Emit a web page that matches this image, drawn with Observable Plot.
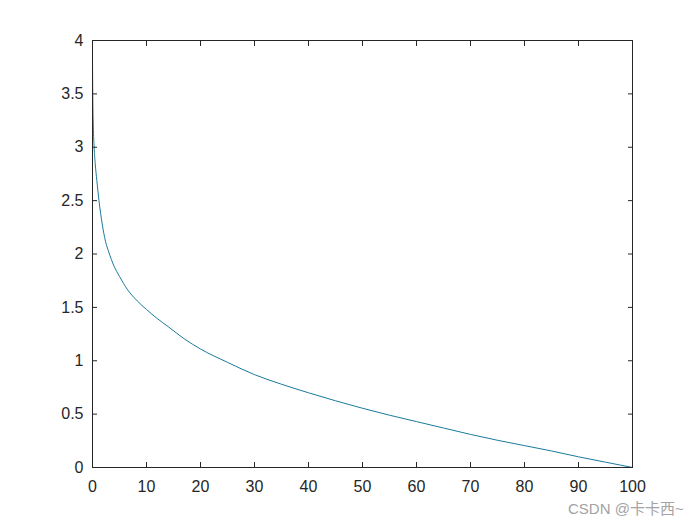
<!DOCTYPE html>
<html>
<head>
<meta charset="utf-8">
<script src="https://cdn.jsdelivr.net/npm/d3@7"></script>
<script src="https://cdn.jsdelivr.net/npm/@observablehq/plot@0.6"></script>
<style>
  html, body { margin: 0; padding: 0; background: #fff; }
  #wrap { position: relative; width: 700px; height: 525px; }
  #mark { position: absolute; left: 568px; top: 500px; font: 15px/17px "Liberation Sans", "Noto Sans CJK SC", sans-serif; color: #a3a3a3; white-space: nowrap; }
</style>
</head>
<body>
<div id="wrap"><div id="mark">CSDN @卡卡西~</div></div>
<script>
// values
const xs = [0, 0.05, 0.15, 0.3, 0.5, 0.8, 1.2, 1.8, 2.4, 3, 4, 5, 6.5, 8.3, 10, 12, 14, 17, 20, 25, 30, 35, 40, 45, 50, 55, 60, 65, 70, 75, 80, 85, 90, 95, 100];
const ys = [3.81, 3.5, 3.2, 3.0, 2.85, 2.69, 2.5, 2.28, 2.12, 2.02, 1.885, 1.79, 1.665, 1.56, 1.48, 1.395, 1.32, 1.205, 1.11, 0.985, 0.87, 0.78, 0.70, 0.625, 0.555, 0.49, 0.43, 0.37, 0.31, 0.255, 0.205, 0.155, 0.10, 0.05, 0];
const xTicks = [0, 10, 20, 30, 40, 50, 60, 70, 80, 90, 100];
const yTicks = [0, 0.5, 1, 1.5, 2, 2.5, 3, 3.5, 4];
const yTickLabels = ["0", "0.5", "1", "1.5", "2", "2.5", "3", "3.5", "4"];

const data = xs.map((x, i) => ({x, y: ys[i]}));
const ink = "#262626";

const chart = Plot.plot({
  width: 700,
  height: 525,
  marginLeft: 92,
  marginRight: 68,
  marginTop: 40,
  marginBottom: 58,
  style: {fontFamily: "'Liberation Sans', Arial, Helvetica, sans-serif", fontSize: "16px", color: ink, background: "#fff"},
  x: {domain: [0, 100]},
  y: {domain: [0, 4]},
  marks: [
    Plot.line(data, {x: "x", y: "y", stroke: "#1a7a9c", strokeWidth: 1, curve: "monotone-x"}),
    Plot.frame({stroke: ink, strokeWidth: 1}),
    // labels
    Plot.axisX(xTicks, {anchor: "bottom", tickSize: 0, tickPadding: 13, label: null, fill: ink, fontSize: 16}),
    Plot.axisY(yTicks, {anchor: "left", tickSize: 0, tickPadding: 9, label: null, fill: ink, fontSize: 16,
      tickFormat: (d) => yTickLabels[yTicks.indexOf(d)]}),
    // inward ticks
    Plot.axisX(xTicks, {anchor: "bottom", tickSize: 5, dy: -5, text: null, label: null, stroke: ink}),
    Plot.axisX(xTicks, {anchor: "top", tickSize: 5, dy: 5, text: null, label: null, stroke: ink}),
    Plot.axisY(yTicks, {anchor: "left", tickSize: 5, dx: 5, text: null, label: null, stroke: ink}),
    Plot.axisY(yTicks, {anchor: "right", tickSize: 5, dx: -5, text: null, label: null, stroke: ink})
  ]
});
document.getElementById("wrap").prepend(chart);
</script>
</body>
</html>
